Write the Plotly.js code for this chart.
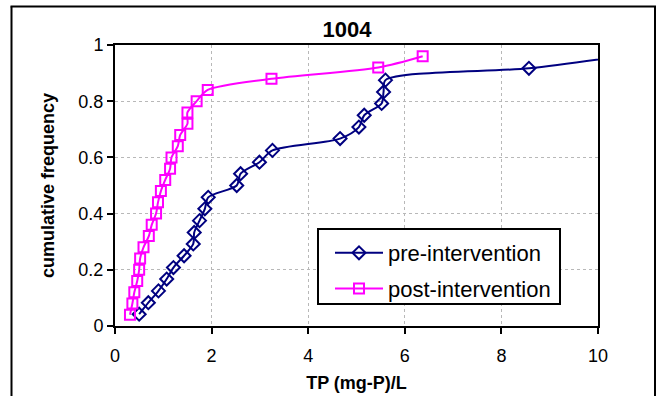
<!DOCTYPE html>
<html>
<head>
<meta charset="utf-8">
<script src="https://cdn.plot.ly/plotly-3.0.1.min.js"></script>
<style>html,body{margin:0;padding:0;background:#fff;}#chart{width:659px;height:396px;}</style>
</head>
<body>
<div id="chart"></div>
<script>
// Pre-intervention TP values (mg-P/L) and cumulative frequencies
const preTP = [0.50,0.69,0.90,1.07,1.21,1.43,1.62,1.64,1.75,1.86,1.93,2.52,2.60,2.99,3.26,4.66,5.05,5.16,5.52,5.56,5.60,8.57,10.4];
const preFreq = [0.042,0.083,0.125,0.167,0.208,0.250,0.292,0.333,0.375,0.417,0.458,0.500,0.542,0.583,0.625,0.667,0.708,0.750,0.792,0.833,0.875,0.917,0.958];
// Post-intervention TP values and cumulative frequencies
const postTP = [0.31,0.36,0.40,0.46,0.50,0.52,0.59,0.70,0.76,0.85,0.89,0.95,1.04,1.14,1.17,1.30,1.35,1.50,1.50,1.69,1.92,3.24,5.45,6.37];
const postFreq = [0.04,0.08,0.12,0.16,0.20,0.24,0.28,0.32,0.36,0.40,0.44,0.48,0.52,0.56,0.60,0.64,0.68,0.72,0.76,0.80,0.84,0.88,0.92,0.96];
const xTicks = [0,2,4,6,8,10];
const yTicks = [0,0.2,0.4,0.6,0.8,1];
const yTickText = ['0','0.2','0.4','0.6','0.8','1'];

const FONT = 'Arial, "Liberation Sans", sans-serif';
const W = 659, H = 396;
const M = {l:115, r:61, t:45, b:70};
const pw = W - M.l - M.r, ph = H - M.t - M.b;
const px = v => (v - M.l) / pw;
const py = v => (H - M.b - v) / ph;

const traces = [
  {
    x: preTP, y: preFreq, name: 'pre-intervention', type: 'scatter', mode: 'lines+markers',
    legendgroup: 'a',
    line: {color: '#000080', width: 2, shape: 'spline', smoothing: 0.8},
    marker: {symbol: 'diamond-open', size: 10, color: '#000080', line: {width: 2, color: '#000080'}}
  },
  {
    x: postTP, y: postFreq, name: 'post-intervention', type: 'scatter', mode: 'lines+markers',
    legendgroup: 'b',
    line: {color: '#FF00FF', width: 2, shape: 'spline', smoothing: 0.8},
    marker: {symbol: 'square-open', size: 10, color: '#FF00FF', line: {width: 2, color: '#FF00FF'}}
  }
];

const layout = {
  width: W, height: H,
  margin: M,
  paper_bgcolor: '#fff', plot_bgcolor: '#fff',
  font: {family: FONT, color: '#000', size: 18},
  title: {text: '<b>1004</b>', font: {family: FONT, size: 22, color: '#000'},
          xref: 'paper', x: px(347), xanchor: 'center', yref: 'container', y: 1 - 29.5/H, yanchor: 'middle'},
  xaxis: {
    range: [0, 10], tickvals: xTicks, ticktext: xTicks.map(String),
    showgrid: true, gridcolor: '#b8b8b8', griddash: 'dot', gridwidth: 1,
    showline: true, linecolor: '#000', linewidth: 2, mirror: true,
    ticks: 'outside', ticklen: 6, tickwidth: 2, tickcolor: '#000',
    ticklabelstandoff: 6,
    tickfont: {size: 18, family: FONT}, zeroline: false,
    title: {text: '<b>TP (mg-P)/L</b>', font: {size: 18, family: FONT}, standoff: 12}
  },
  yaxis: {
    range: [0, 1], tickvals: yTicks, ticktext: yTickText,
    showgrid: true, gridcolor: '#b8b8b8', griddash: 'dot', gridwidth: 1,
    showline: true, linecolor: '#000', linewidth: 2, mirror: true,
    ticks: 'outside', ticklen: 6, tickwidth: 2, tickcolor: '#000',
    tickfont: {size: 18, family: FONT}, zeroline: false,
    title: {text: '<b>cumulative frequency</b>', font: {size: 18, family: FONT}, standoff: 19}
  },
  showlegend: true,
  legend: {
    x: px(330), y: py(232), xanchor: 'left', yanchor: 'top',
    bgcolor: 'rgba(0,0,0,0)', borderwidth: 0,
    font: {family: FONT, size: 22, color: '#000'},
    traceorder: 'grouped', tracegroupgap: 4, itemwidth: 48
  },
  shapes: [
    {type: 'rect', xref: 'paper', yref: 'paper', layer: 'above', x0: px(318), x1: px(560), y0: py(304), y1: py(229), fillcolor: '#fff', line: {color: '#000', width: 2}},
    {type: 'line', xref: 'paper', yref: 'paper', x0: px(11.5), x1: px(11.5), y0: py(6.5), y1: py(420), line: {color: '#000', width: 2}},
    {type: 'line', xref: 'paper', yref: 'paper', x0: px(10.5), x1: px(656), y0: py(6.5), y1: py(6.5), line: {color: '#000', width: 2}},
    {type: 'line', xref: 'paper', yref: 'paper', x0: px(655), x1: px(655), y0: py(6.5), y1: py(420), line: {color: '#000', width: 2}}
  ]
};

Plotly.newPlot('chart', traces, layout, {displayModeBar: false, staticPlot: true});
</script>
</body>
</html>
